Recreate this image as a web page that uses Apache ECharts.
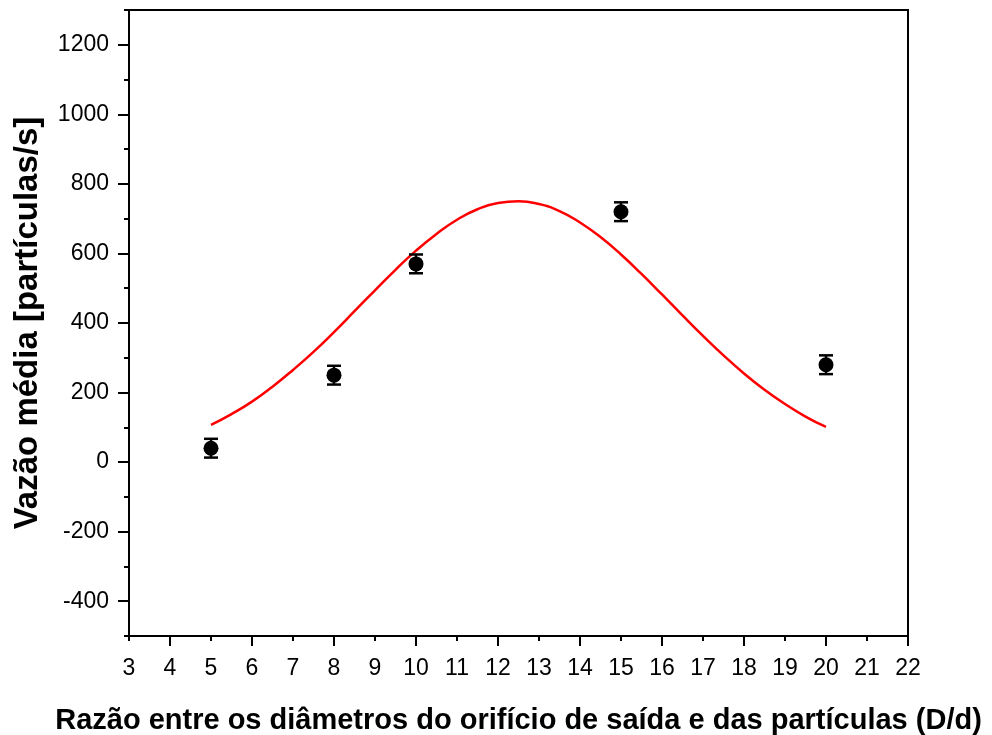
<!DOCTYPE html>
<html>
<head>
<meta charset="utf-8">
<script src="https://cdn.jsdelivr.net/npm/echarts@6/dist/echarts.min.js"></script>
<style>html,body{margin:0;padding:0;background:#fff}#c{width:992px;height:735px}</style>
</head>
<body>
<div id="c"></div>
<script>
// Measured data points
const pointX = [5, 8, 10, 15, 20];
const pointY = [40, 250, 570, 720, 280];
const pointErr = [27, 27, 27, 27, 27];
// Fit curve
const curveX = [5,5.5,6,6.5,7,7.5,8,8.5,9,9.5,10,10.5,11,11.5,12,12.5,13,13.5,14,14.5,15,15.5,16,16.5,17,17.5,18,18.5,19,19.5,20];
const curveY = [107,138,174,217,265,317,374,434,494,553,608,656,697,727,745,750,742,722,689,647,597,541,482,422,363,307,255,208,167,131,101];
// Ticks
const xLabels = [3,4,5,6,7,8,9,10,11,12,13,14,15,16,17,18,19,20,21,22];
const xMajorTicks = [4,6,8,10,12,14,16,18,20,22];
const xMinorTicks = [3,5,7,9,11,13,15,17,19,21];
const yLabels = [-400,-200,0,200,400,600,800,1000,1200];
const yMinorTicks = [-500,-300,-100,100,300,500,700,900,1100,1300];

const font = 'Liberation Sans, Arial, sans-serif';
const chart = echarts.init(document.getElementById('c'));
const baseX = {type:'value', min:3, max:22, splitLine:{show:false}};
const baseY = {type:'value', min:-500, max:1300, splitLine:{show:false}};
const plain = v => String(v);
chart.setOption({
  animation:false,
  grid:{left:129, right:84, top:10, bottom:99, containLabel:false, outerBoundsMode:'none',
        show:true, borderColor:'#000', borderWidth:2, backgroundColor:'transparent'},
  xAxis:[
    Object.assign({}, baseX, {
      position:'bottom',
      axisLine:{show:true, onZero:false, lineStyle:{color:'#000', width:2}},
      axisTick:{show:true, customValues:xMajorTicks, length:10, inside:false, lineStyle:{color:'#000', width:2}},
      axisLabel:{show:true, customValues:xLabels, formatter:plain, margin:21, color:'#000', fontSize:23, fontFamily:font},
      name:'Razão entre os diâmetros do orifício de saída e das partículas (D/d)',
      nameLocation:'middle', nameGap:70,
      nameTextStyle:{fontSize:29, fontWeight:'bold', color:'#000', fontFamily:font}
    }),
    Object.assign({}, baseX, {
      position:'bottom',
      axisLine:{show:false, onZero:false},
      axisTick:{show:true, customValues:xMinorTicks, length:5, lineStyle:{color:'#000', width:2}},
      axisLabel:{show:false}
    })
  ],
  yAxis:[
    Object.assign({}, baseY, {
      position:'left',
      axisLine:{show:true, onZero:false, lineStyle:{color:'#000', width:2}},
      axisTick:{show:true, customValues:yLabels, length:11, lineStyle:{color:'#000', width:2}},
      axisLabel:{show:true, customValues:yLabels, formatter:plain, margin:20, color:'#000', fontSize:23, fontFamily:font},
      name:'Vazão média [partículas/s]',
      nameLocation:'middle', nameGap:85,
      nameTextStyle:{fontSize:33, fontWeight:'bold', color:'#000', fontFamily:font}
    }),
    Object.assign({}, baseY, {
      position:'left',
      axisLine:{show:false, onZero:false},
      axisTick:{show:true, customValues:yMinorTicks, length:5, lineStyle:{color:'#000', width:2}},
      axisLabel:{show:false}
    })
  ],
  series:[
    {
      type:'line', xAxisIndex:0, yAxisIndex:0,
      data: curveX.map((x,i)=>[x, curveY[i]]),
      smooth:true, showSymbol:false,
      lineStyle:{color:'#ff0000', width:2.5}, z:2
    },
    {
      type:'custom', xAxisIndex:0, yAxisIndex:0,
      data: pointX.map((x,i)=>[x, pointY[i]-pointErr[i], pointY[i]+pointErr[i]]),
      renderItem:function(params, api){
        const lo = api.coord([api.value(0), api.value(1)]);
        const hi = api.coord([api.value(0), api.value(2)]);
        const hw = 7;
        const st = {stroke:'#000', lineWidth:2.5};
        return {type:'group', children:[
          {type:'line', shape:{x1:lo[0], y1:lo[1], x2:hi[0], y2:hi[1]}, style:st},
          {type:'line', shape:{x1:lo[0]-hw, y1:lo[1], x2:lo[0]+hw, y2:lo[1]}, style:st},
          {type:'line', shape:{x1:hi[0]-hw, y1:hi[1], x2:hi[0]+hw, y2:hi[1]}, style:st}
        ]};
      }, z:3
    },
    {
      type:'scatter', xAxisIndex:0, yAxisIndex:0,
      data: pointX.map((x,i)=>[x, pointY[i]]),
      symbol:'circle', symbolSize:15,
      itemStyle:{color:'#000', opacity:1}, z:4
    }
  ]
});
</script>
</body>
</html>
